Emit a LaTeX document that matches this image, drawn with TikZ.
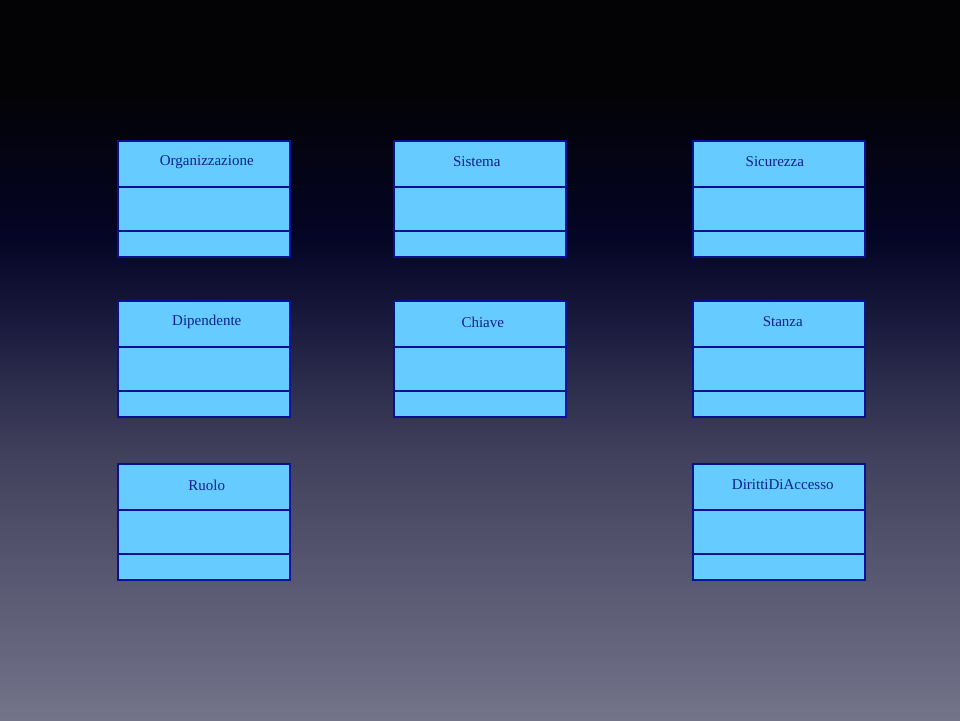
\documentclass[tikz,border=0pt]{standalone}
\usepackage{fontspec}
\setmainfont{Liberation Serif}
\usepackage{xcolor}
\usepackage{tikz}
\usetikzlibrary{positioning,calc}
\definecolor{classfill}{RGB}{102,204,255}
\definecolor{lineblue}{RGB}{8,16,150}
\definecolor{titleblue}{RGB}{16,32,140}
\definecolor{bgA}{rgb}{0.01,0.01,0.02}
\definecolor{bgB}{rgb}{0.02,0.02,0.15}
\definecolor{bgC}{rgb}{0.11,0.11,0.25}
\definecolor{bgD}{rgb}{0.25,0.25,0.36}
\definecolor{bgE}{rgb}{0.45,0.45,0.54}

\begin{document}
\begin{tikzpicture}[
  x=1pt, y=-1pt,
  every node/.style={font=\fontsize{15}{17}\selectfont, text=titleblue},
  cls/.style={draw=lineblue, line width=1.6pt, fill=classfill, anchor=north west,
              minimum width=172pt, minimum height=116pt, inner sep=0pt,
              path picture={\draw[lineblue, line width=1.6pt]
                ([yshift=-46pt]path picture bounding box.north west) -- ([yshift=-46pt]path picture bounding box.north east)
                ([yshift=26pt]path picture bounding box.south west) -- ([yshift=26pt]path picture bounding box.south east);}},
  clsname/.style={inner sep=0pt},
]
  % Background
  \useasboundingbox (0,0) rectangle (960,720);
  \fill[bgA] (0,0) rectangle (960,91);
  \shade[top color=bgA, bottom color=bgB] (0,90) rectangle (960,241);
  \shade[top color=bgB, bottom color=bgC] (0,240) rectangle (960,331);
  \shade[top color=bgC, bottom color=bgD] (0,330) rectangle (960,451);
  \shade[top color=bgD, bottom color=bgE] (0,450) rectangle (960,720);

  % Top row
  \node[cls] (org) at (117,140) {};
  \node[cls] (sis) at (393,140) {};
  \node[cls] (sic) at (692,140) {};

  % Middle row
  \node[cls] (dip) at (117,300) {};
  \node[cls] (chi) at (393,300) {};
  \node[cls] (sta) at (692,300) {};

  % Bottom row
  \node[cls] (ruo) at (117,463) {};
  \node[cls] (dir) at (692,463) {};

  % Class names
  \node[clsname] (orgN) at ([xshift=3pt,yshift=-22pt]org.north) {Organizzazione};
  \node[clsname] (sisN) at ([xshift=-3pt,yshift=-22pt]sis.north) {Sistema};
  \node[clsname] (sicN) at ([xshift=-4pt,yshift=-22pt]sic.north) {Sicurezza};
  \node[clsname] (dipN) at ([xshift=3pt,yshift=-22pt]dip.north) {Dipendente};
  \node[clsname] (chiN) at ([xshift=3pt,yshift=-22pt]chi.north) {Chiave};
  \node[clsname] (staN) at ([xshift=4pt,yshift=-22pt]sta.north) {Stanza};
  \node[clsname] (ruoN) at ([xshift=3pt,yshift=-22pt]ruo.north) {Ruolo};
  \node[clsname] (dirN) at ([xshift=4pt,yshift=-22pt]dir.north) {DirittiDiAccesso};
\end{tikzpicture}
\end{document}
